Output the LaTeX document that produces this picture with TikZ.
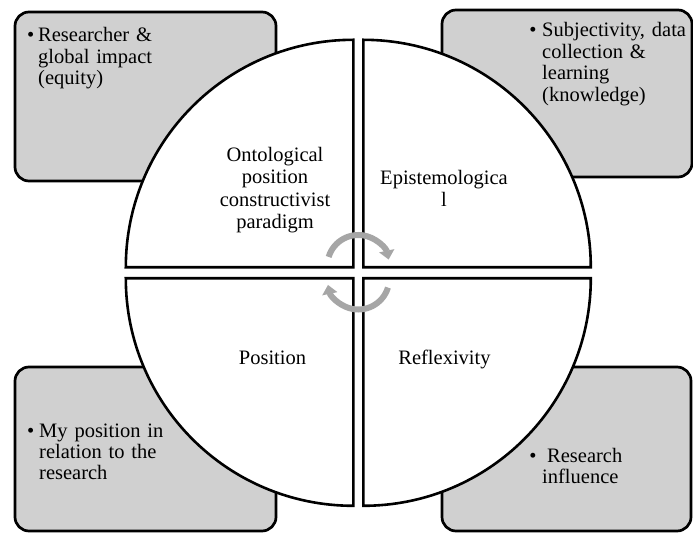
\documentclass[tikz,border=0pt]{standalone}
\usepackage{fontspec}
\setmainfont{Liberation Serif}
\usetikzlibrary{arrows.meta}
\definecolor{boxgray}{RGB}{208,208,208}
\definecolor{arrgray}{RGB}{166,166,166}
\begin{document}
\begin{tikzpicture}[x=1pt,y=1pt,
  gbox/.style={draw=black, line width=2.7pt, fill=boxgray, rounded corners=14pt, rectangle, inner sep=0pt, outer sep=0pt},
  sector/.style={draw=black, line width=2.6pt, fill=white, line join=miter},
  btxt/.style={font=\fontsize{20.5}{21.5}\selectfont, inner sep=0pt, text width=170pt, align=left, anchor=base west},
  bul/.style={font=\fontsize{20.5}{21.5}\selectfont, inner sep=0pt, anchor=base},
  ctxt/.style={font=\fontsize{20.5}{22.5}\selectfont, inner sep=0pt, text width=160pt, align=center, anchor=base},
  cyc/.style={draw=arrgray, line width=6pt, -{Triangle[width=15pt,length=9pt]}}
]
\useasboundingbox (0,0) rectangle (693,533);

% outer rounded boxes
\node[gbox, minimum width=261pt, minimum height=169pt] (boxtl) at (145.5,436.5) {};
\node[gbox, minimum width=250pt, minimum height=167pt] (boxtr) at (567,439.5) {};
\node[gbox, minimum width=261pt, minimum height=164pt] (boxbl) at (145.5,84) {};
\node[gbox, minimum width=249pt, minimum height=164pt] (boxbr) at (566.5,84) {};

% sector centres
\coordinate (ctl) at (353.3,265.7);
\coordinate (ctr) at (363.3,265.7);
\coordinate (cbl) at (353.3,254.7);
\coordinate (cbr) at (363.3,254.7);

\draw[sector] (ctl) -- ++(180:227.5) arc[start angle=180, end angle=90, radius=227.5] -- cycle;
\draw[sector] (ctr) -- ++(90:227.5) arc[start angle=90, end angle=0, radius=227.5] -- cycle;
\draw[sector] (cbl) -- ++(180:227.5) arc[start angle=180, end angle=270, radius=227.5] -- cycle;
\draw[sector] (cbr) -- ++(0:227.5) arc[start angle=0, end angle=-90, radius=227.5] -- cycle;

% box texts
\node[bul] (b1) at (30.8,491) {\textbullet};
\node[btxt] (t1) at (38,491) {Researcher \&\\global impact\\(equity)};
\node[bul] (b2) at (533,496.3) {\textbullet};
\node[btxt] (t2) at (542,496.3) {Subjectivity, data\\collection \&\\learning\\(knowledge)};
\node[bul] (b3) at (30.8,96) {\textbullet};
\node[btxt] (t3) at (39,96) {My position in\\relation to the\\research};
\node[bul] (b4) at (533,71) {\textbullet};
\node[btxt] (t4) at (542,71) {\hspace*{5pt}Research\\influence};

% sector texts
\node[ctxt] (s1) at (275,371.5) {Ontological\\position\\constructivist\\paradigm};
\node[ctxt] (s2) at (444,348.5) {Epistemologica\\l};
\node[ctxt] (s3) at (272.5,168) {Position};
\node[ctxt] (s4) at (444.5,168) {Reflexivity};

% cycle arrows
\coordinate (atop) at (358.3,267);
\coordinate (abot) at (358.3,254.5);
\draw[cyc] (atop) ++(163:31) arc[start angle=163, end angle=12, radius=31];
\draw[cyc] (abot) ++(-17:31) arc[start angle=-17, end angle=-168, radius=31];
\end{tikzpicture}
\end{document}
